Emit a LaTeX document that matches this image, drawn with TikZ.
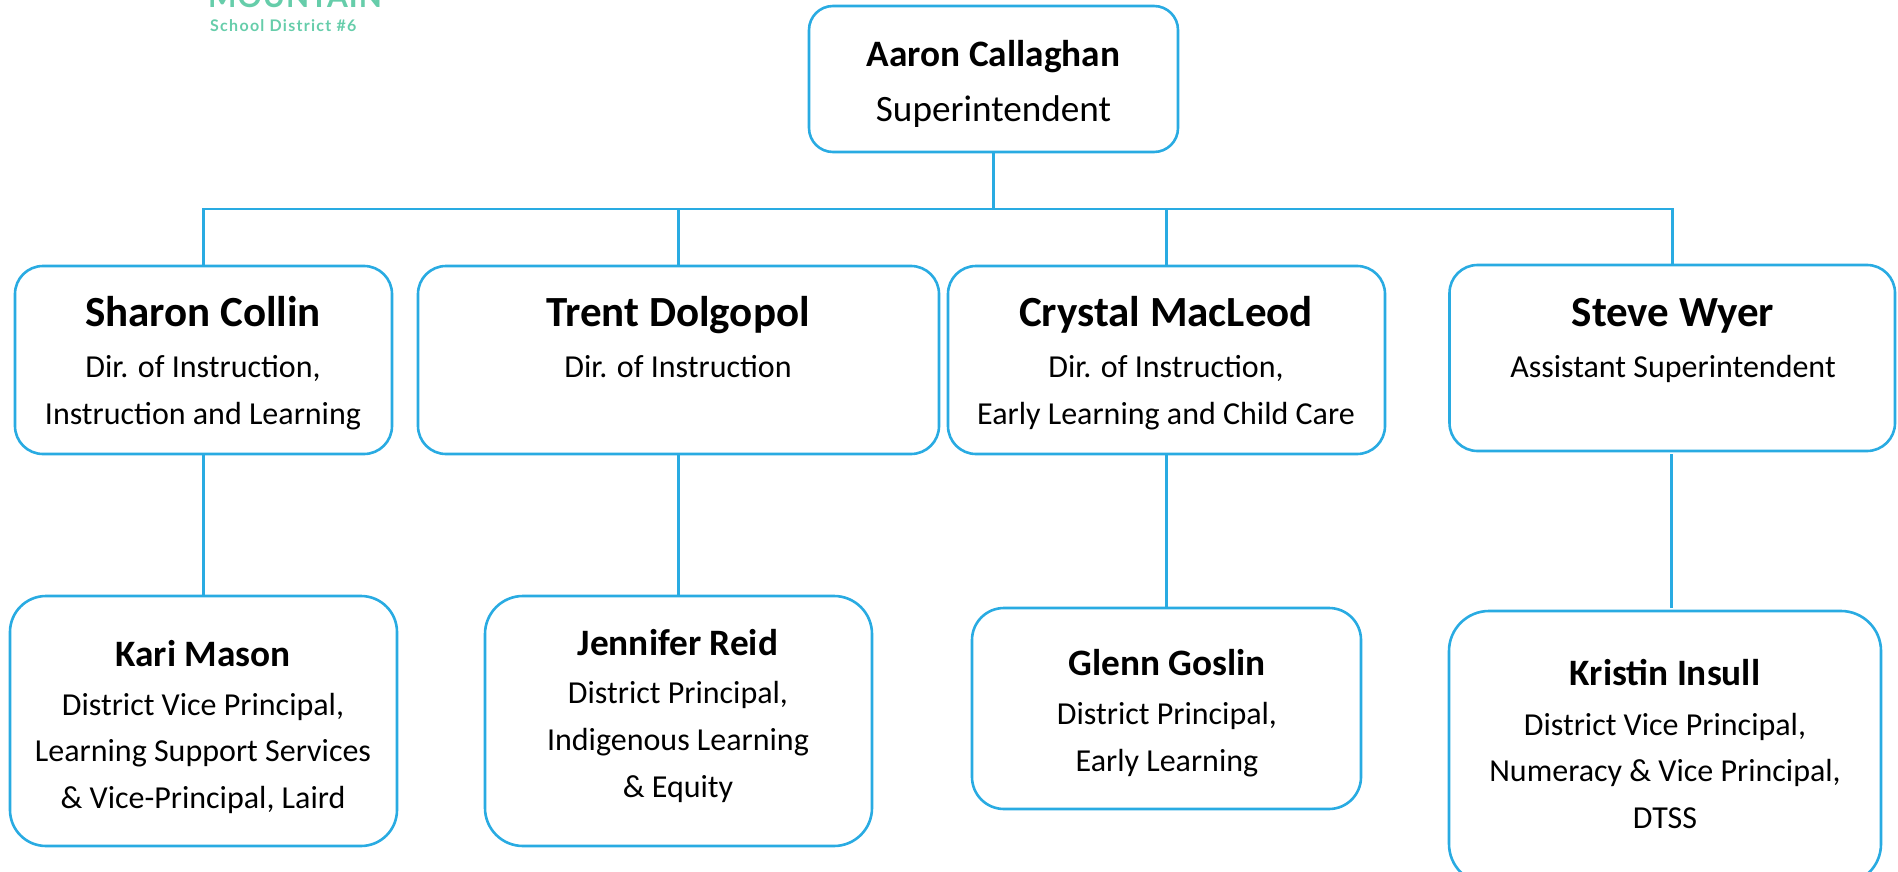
\documentclass[tikz,border=0pt]{standalone}
\usepackage{fontspec}
\setmainfont{Carlito}
\newfontfamily\logofonta[LetterSpace=3.3]{Lato}
\newfontfamily\logofontb[LetterSpace=8]{Lato}
\definecolor{linkblue}{HTML}{29ABE2}
\definecolor{logogreen}{HTML}{66CDAA}
\tikzset{
  x=1pt,y=-1pt,
  orgbox/.style={draw=linkblue,line width=2.6pt,fill=white,rounded corners=#1,inner sep=0pt,outer sep=0pt},
  orgbox/.default=28pt,
  link/.style={draw=linkblue,line width=2.6pt},
  big/.style={font=\fontsize{43}{43}\selectfont\bfseries,anchor=base,inner sep=0pt,yshift=-1.5pt},
  mid/.style={font=\fontsize{37.3}{37.3}\selectfont\bfseries,anchor=base,inner sep=0pt,yshift=-1.5pt},
  role/.style={font=\fontsize{32}{32}\selectfont,anchor=base,inner sep=0pt,yshift=-1.5pt},
  toprole/.style={font=\fontsize{37.2}{37.2}\selectfont,anchor=base,inner sep=0pt,yshift=-1.5pt},
}
\newcommand{\orgrect}[6]{\node[orgbox=#6,minimum width=#4pt-#2pt,minimum height=#5pt-#3pt] (#1) at ({(#2+#4)/2},{(#3+#5)/2}) {};}
\begin{document}
\begin{tikzpicture}
\useasboundingbox (0,0) rectangle (1898,872);
\clip (0,0) rectangle (1898,872);
\node[anchor=base west,inner sep=0pt,text=logogreen,font=\logofonta\fontsize{30}{30}\selectfont\bfseries] (logoa) at (208,7.5) {MOUNTAIN};
\node[anchor=base west,inner sep=0pt,text=logogreen,font=\logofontb\fontsize{16}{16}\selectfont\bfseries] (logob) at (210,32) {School District \#6};

\orgrect{top}{809}{6}{1178}{152}{24}
\orgrect{sharon}{15}{266}{392}{454}{28}
\orgrect{trent}{418}{266}{939}{454}{28}
\orgrect{crystal}{948}{266}{1385}{454}{28}
\orgrect{steve}{1449.5}{265}{1895}{451}{28}
\orgrect{kari}{10}{596}{397}{846}{36}
\orgrect{jennifer}{485}{596}{872}{846}{38}
\orgrect{glenn}{972}{608}{1361}{809}{32}
\orgrect{kristin}{1449}{611}{1881}{884}{40}

\coordinate (busl) at (203.5,209);
\coordinate (busr) at (1672.25,209);
\coordinate (busm) at (993.5,209);
\coordinate (stevedown) at (1671.6,454);
\coordinate (kristinup) at (1671.6,608);
\draw[link] (sharon.north) -- (busl) -- (busr) -- (steve.north);
\draw[link] (top.south) -- (busm);
\draw[link] (trent.north) -- (trent.north |- busl);
\draw[link] (crystal.north) -- (crystal.north |- busl);
\draw[link] (sharon.south) -- (kari.north);
\draw[link] (trent.south) -- (jennifer.north);
\draw[link] (crystal.south) -- (glenn.north);
\draw[link] (stevedown) -- (kristinup);

\node[mid] (t1) at (993.5,65.5) {Aaron Callaghan};
\node[toprole] (t2) at (993.5,120) {Superintendent};

\node[big] (s1) at (203,325) {Sharon Collin};
\node[role] (s2) at (203,376) {Dir. of Instruction,};
\node[role] (s3) at (203,423) {Instruction and Learning};

\node[big] (r1) at (678,325) {Trent Dolgopol};
\node[role] (r2) at (678,376) {Dir. of Instruction};

\node[big] (c1) at (1166,325) {Crystal MacLeod};
\node[role] (c2) at (1166,376) {Dir. of Instruction,};
\node[role] (c3) at (1166,423) {Early Learning and Child Care};

\node[big] (w1) at (1673,325) {Steve Wyer};
\node[role] (w2) at (1673,376) {Assistant Superintendent};

\node[mid] (k1) at (203,665) {Kari Mason};
\node[role] (k2) at (203,714) {District Vice Principal,};
\node[role] (k3) at (203,760) {Learning Support Services};
\node[role] (k4) at (203,807) {\& Vice-Principal, Laird};

\node[mid] (j1) at (678,654) {Jennifer Reid};
\node[role] (j2) at (678,702) {District Principal,};
\node[role] (j3) at (678,749) {Indigenous Learning};
\node[role] (j4) at (678,796) {\& Equity};

\node[mid] (g1) at (1167,674) {Glenn Goslin};
\node[role] (g2) at (1167,723) {District Principal,};
\node[role] (g3) at (1167,770) {Early Learning};

\node[mid] (i1) at (1665,684) {Kristin Insull};
\node[role] (i2) at (1665,734) {District Vice Principal,};
\node[role] (i3) at (1665,780) {Numeracy \& Vice Principal,};
\node[role] (i4) at (1665,827) {DTSS};
\end{tikzpicture}
\end{document}
